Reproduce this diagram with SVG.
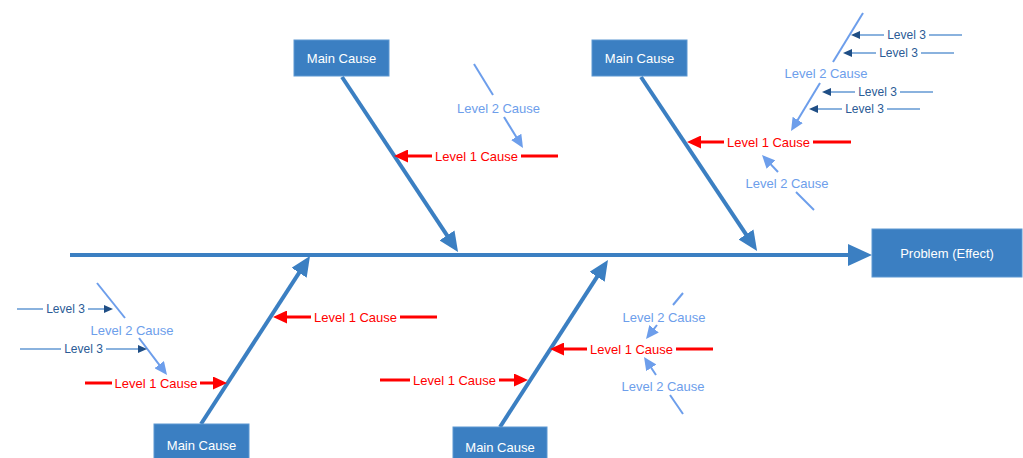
<svg xmlns="http://www.w3.org/2000/svg" width="1023" height="458" viewBox="0 0 1023 458">
<style>
text{font-family:"Liberation Sans",Arial,sans-serif;font-size:13px;text-anchor:middle}
.box{fill:#3b7fc2;stroke:#5d98d2;stroke-width:1}
.bt{fill:#ffffff}
.bone{stroke:#3b7fc2;stroke-width:4;fill:none}
.l1{stroke:#ff0000;stroke-width:3;fill:none}
.t1{fill:#ff0000}
.l2{stroke:#6d9eeb;stroke-width:2;fill:none}
.t2{fill:#6d9eeb}
.l3{stroke:#6398d3;stroke-width:1.5;fill:none}
.t3{fill:#2b5b96;font-size:12px}
</style>
<defs>
<marker id="mMain" markerUnits="userSpaceOnUse" markerWidth="22" markerHeight="18" refX="4" refY="9" orient="auto"><path d="M0,0 L20,9 L0,18 z" fill="#3b7fc2"/></marker>
<marker id="mSpine" markerUnits="userSpaceOnUse" markerWidth="26" markerHeight="22" refX="4" refY="11" orient="auto"><path d="M0,0 L24,11 L0,22 z" fill="#3b7fc2"/></marker>
<marker id="mRed" markerUnits="userSpaceOnUse" markerWidth="16" markerHeight="13" refX="4" refY="6.5" orient="auto"><path d="M0,0 L14,6.5 L0,13 z" fill="#ff0000"/></marker>
<marker id="mL2" markerUnits="userSpaceOnUse" markerWidth="15" markerHeight="12" refX="4" refY="6" orient="auto"><path d="M0,0 L13,6 L0,12 z" fill="#6d9eeb"/></marker>
<marker id="mL3" markerUnits="userSpaceOnUse" markerWidth="11" markerHeight="8" refX="3" refY="4" orient="auto"><path d="M0,0 L9,4 L0,8 z" fill="#1f4e85"/></marker>
</defs>
<rect width="1023" height="458" fill="#ffffff"/>

<g id="connectors">
<line class="bone" x1="70" y1="255" x2="852" y2="255" marker-end="url(#mSpine)"/>
<line class="bone" x1="342" y1="77" x2="449.2" y2="238.7" marker-end="url(#mMain)"/>
<line class="bone" x1="641" y1="77" x2="748.2" y2="237.7" marker-end="url(#mMain)"/>
<line class="bone" x1="201" y1="424" x2="301.3" y2="269.4" marker-end="url(#mMain)"/>
<line class="bone" x1="500" y1="427" x2="599.3" y2="273.4" marker-end="url(#mMain)"/>
<line class="l1" x1="558" y1="156" x2="521" y2="156"/>
<line class="l1" x1="432" y1="156" x2="404" y2="156" marker-end="url(#mRed)"/>
<line class="l1" x1="851" y1="142" x2="813" y2="142"/>
<line class="l1" x1="724" y1="142" x2="697" y2="142" marker-end="url(#mRed)"/>
<line class="l1" x1="437" y1="317" x2="400" y2="317"/>
<line class="l1" x1="311" y1="317" x2="283" y2="317" marker-end="url(#mRed)"/>
<line class="l1" x1="85" y1="383" x2="112" y2="383"/>
<line class="l1" x1="200" y1="383" x2="217" y2="383" marker-end="url(#mRed)"/>
<line class="l1" x1="380" y1="380" x2="410" y2="380"/>
<line class="l1" x1="499" y1="380" x2="518" y2="380" marker-end="url(#mRed)"/>
<line class="l1" x1="713" y1="349" x2="676" y2="349"/>
<line class="l1" x1="587" y1="349" x2="560" y2="349" marker-end="url(#mRed)"/>
<line class="l2" x1="474" y1="64" x2="493" y2="95"/>
<line class="l2" x1="504" y1="117" x2="518.3" y2="140.3" marker-end="url(#mL2)"/>
<line class="l2" x1="863" y1="13" x2="833" y2="62"/>
<line class="l2" x1="820" y1="83" x2="795.7" y2="123.3" marker-end="url(#mL2)"/>
<line class="l2" x1="778" y1="172" x2="768.2" y2="161.6" marker-end="url(#mL2)"/>
<line class="l2" x1="796" y1="192" x2="814" y2="210"/>
<line class="l2" x1="97" y1="283" x2="125" y2="318"/>
<line class="l2" x1="139" y1="338" x2="161.6" y2="367.8" marker-end="url(#mL2)"/>
<line class="l2" x1="683" y1="293" x2="673" y2="305"/>
<line class="l2" x1="657" y1="325" x2="651.6" y2="331.9" marker-end="url(#mL2)"/>
<line class="l2" x1="656" y1="375" x2="649" y2="364.5" marker-end="url(#mL2)"/>
<line class="l2" x1="670" y1="395" x2="683" y2="414"/>
<line class="l3" x1="962" y1="35" x2="929" y2="35"/>
<line class="l3" x1="884" y1="35" x2="857" y2="35" marker-end="url(#mL3)"/>
<line class="l3" x1="954" y1="53" x2="921" y2="53"/>
<line class="l3" x1="876" y1="53" x2="849" y2="53" marker-end="url(#mL3)"/>
<line class="l3" x1="933" y1="92" x2="900" y2="92"/>
<line class="l3" x1="855" y1="92" x2="828" y2="92" marker-end="url(#mL3)"/>
<line class="l3" x1="920" y1="109" x2="887" y2="109"/>
<line class="l3" x1="842" y1="109" x2="815" y2="109" marker-end="url(#mL3)"/>
<line class="l3" x1="17" y1="309" x2="43" y2="309"/>
<line class="l3" x1="88" y1="309" x2="107" y2="309" marker-end="url(#mL3)"/>
<line class="l3" x1="20" y1="349" x2="61" y2="349"/>
<line class="l3" x1="106" y1="349" x2="141" y2="349" marker-end="url(#mL3)"/>
</g>

<g id="labels">
<text class="t1" x="476.5" y="160.5">Level 1 Cause</text>
<text class="t1" x="768.5" y="146.5">Level 1 Cause</text>
<text class="t1" x="355.5" y="321.5">Level 1 Cause</text>
<text class="t1" x="156" y="387.5">Level 1 Cause</text>
<text class="t1" x="454.5" y="384.5">Level 1 Cause</text>
<text class="t1" x="631.5" y="353.5">Level 1 Cause</text>
<text class="t2" x="498.5" y="112.5">Level 2 Cause</text>
<text class="t2" x="826" y="77.5">Level 2 Cause</text>
<text class="t2" x="787" y="187.5">Level 2 Cause</text>
<text class="t2" x="132" y="334.5">Level 2 Cause</text>
<text class="t2" x="664" y="321.5">Level 2 Cause</text>
<text class="t2" x="663" y="390.5">Level 2 Cause</text>
<text class="t3" x="906.5" y="39">Level 3</text>
<text class="t3" x="898.5" y="57">Level 3</text>
<text class="t3" x="877.5" y="96">Level 3</text>
<text class="t3" x="864.5" y="113">Level 3</text>
<text class="t3" x="65.5" y="313">Level 3</text>
<text class="t3" x="83.5" y="353">Level 3</text>
</g>

<g id="main-cause-1"><rect class="box" x="294" y="40" width="95" height="36"/><text class="bt" x="341.5" y="62.5">Main Cause</text></g>
<g id="main-cause-2"><rect class="box" x="592" y="40" width="95" height="36"/><text class="bt" x="639.5" y="62.5">Main Cause</text></g>
<g id="main-cause-3"><rect class="box" x="154" y="424" width="95" height="40"/><text class="bt" x="201.5" y="449.5">Main Cause</text></g>
<g id="main-cause-4"><rect class="box" x="453" y="427" width="94" height="40"/><text class="bt" x="500" y="451.5">Main Cause</text></g>
<g id="problem"><rect class="box" x="872" y="229" width="150" height="48"/><text class="bt" x="947" y="257.5">Problem (Effect)</text></g>
</svg>
